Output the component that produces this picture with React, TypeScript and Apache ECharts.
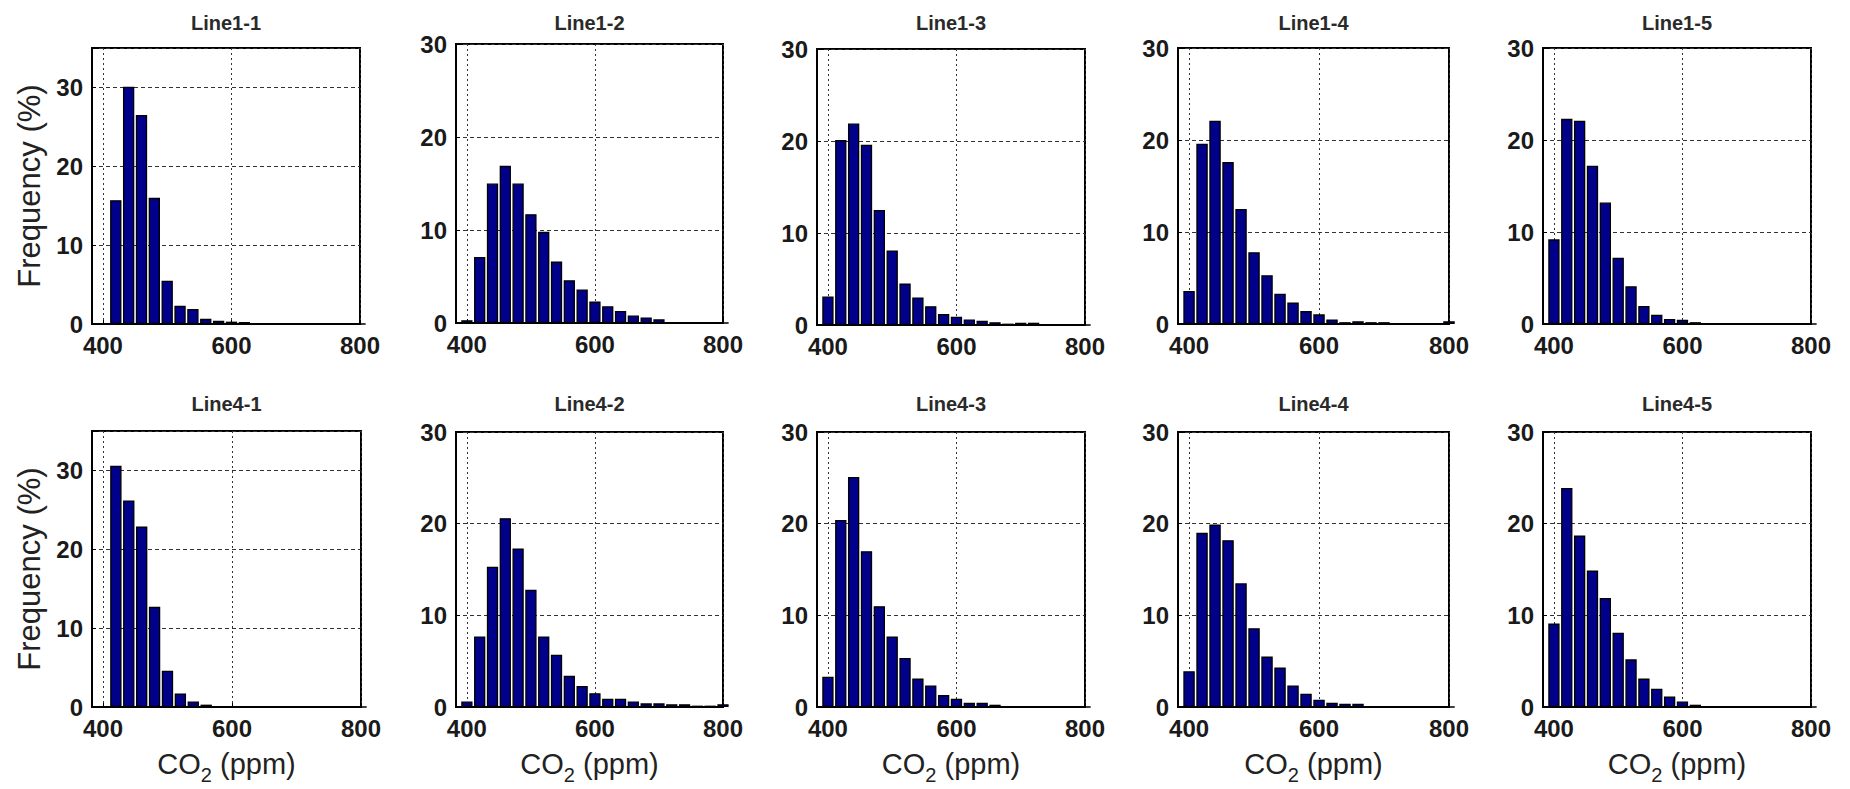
import React, { useEffect, useRef } from 'react';
import * as echarts from 'echarts';

const bins = [400, 420, 440, 460, 480, 500, 520, 540, 560, 580, 600, 620, 640, 660, 680, 700, 720, 740, 760, 780, 800];

const line1_1 = [0, 15.7, 30.1, 26.5, 16.0, 5.5, 2.3, 1.9, 0.65, 0.4, 0.3, 0.25, 0, 0, 0, 0, 0, 0, 0, 0, 0];
const line1_2 = [0.3, 7.1, 15.0, 16.9, 15.0, 11.7, 9.8, 6.6, 4.6, 3.6, 2.3, 1.8, 1.3, 0.8, 0.6, 0.4, 0, 0, 0, 0, 0];
const line1_3 = [3.1, 20.1, 21.9, 19.6, 12.5, 8.1, 4.5, 3.0, 2.05, 1.2, 0.9, 0.6, 0.45, 0.3, 0.15, 0.25, 0.25, 0, 0, 0, 0];
const line1_4 = [3.6, 19.6, 22.1, 17.6, 12.5, 7.8, 5.3, 3.3, 2.35, 1.4, 1.05, 0.5, 0.2, 0.3, 0.2, 0.2, 0, 0, 0, 0, 0.3];
const line1_5 = [9.2, 22.3, 22.1, 17.2, 13.2, 7.2, 4.1, 1.95, 1.0, 0.55, 0.45, 0.2, 0, 0, 0, 0, 0, 0, 0, 0, 0];
const line4_1 = [0, 30.6, 26.2, 22.9, 12.7, 4.6, 1.7, 0.7, 0.3, 0, 0, 0, 0, 0, 0, 0, 0, 0, 0, 0, 0];
const line4_2 = [0.6, 7.7, 15.3, 20.6, 17.3, 12.8, 7.7, 5.7, 3.4, 2.3, 1.5, 0.9, 0.9, 0.6, 0.4, 0.4, 0.3, 0.3, 0.15, 0.15, 0.3];
const line4_3 = [3.3, 20.4, 25.1, 17.0, 11.0, 7.7, 5.35, 3.1, 2.35, 1.3, 0.9, 0.45, 0.45, 0.25, 0, 0, 0, 0, 0, 0, 0];
const line4_4 = [3.9, 19.0, 19.9, 18.2, 13.5, 8.6, 5.5, 4.3, 2.35, 1.45, 0.8, 0.45, 0.35, 0.35, 0, 0, 0, 0, 0, 0, 0];
const line4_5 = [9.1, 23.9, 18.7, 14.9, 11.9, 8.1, 5.2, 3.1, 2.0, 1.15, 0.6, 0.25, 0, 0, 0, 0, 0, 0, 0, 0, 0];

const titles = ['Line1-1', 'Line1-2', 'Line1-3', 'Line1-4', 'Line1-5', 'Line4-1', 'Line4-2', 'Line4-3', 'Line4-4', 'Line4-5'];
const seriesValues = [line1_1, line1_2, line1_3, line1_4, line1_5, line4_1, line4_2, line4_3, line4_4, line4_5];
const yMaxes = [35, 30, 30, 30, 30, 35, 30, 30, 30, 30];
const xTicks = [400, 600, 800];
const xMin = 383;
const xMax = 800;
const yLabel = 'Frequency (%)';

// layout (px)
const grids = [
  { left: 92, top: 48, width: 268, height: 276 },
  { left: 456, top: 44, width: 267, height: 279 },
  { left: 817, top: 49, width: 268, height: 276 },
  { left: 1178, top: 48, width: 271, height: 276 },
  { left: 1543, top: 48, width: 268, height: 276 },
  { left: 92, top: 431, width: 269, height: 276 },
  { left: 456, top: 432, width: 267, height: 275 },
  { left: 817, top: 432, width: 268, height: 275 },
  { left: 1178, top: 432, width: 271, height: 275 },
  { left: 1543, top: 432, width: 268, height: 275 },
];

const FONT = "'Liberation Sans', Arial, Helvetica, sans-serif";

export default function App() {
  const ref = useRef<HTMLDivElement>(null);

  useEffect(() => {
    document.body.style.margin = '0';
    if (!ref.current) return;
    const chart = echarts.init(ref.current, undefined, { renderer: 'svg' });

    const graphic: any[] = [];
    grids.forEach((g, i) => {
      graphic.push({
        type: 'text',
        x: g.left + g.width / 2,
        y: i < 5 ? 23 : 404,
        style: {
          text: titles[i],
          fontFamily: FONT,
          fontSize: 20,
          fontWeight: 'bold',
          fill: '#2a2a2a',
          align: 'center',
          verticalAlign: 'middle',
        },
      });
      if (i >= 5) {
        graphic.push({
          type: 'text',
          x: g.left + g.width / 2,
          y: 764,
          style: {
            text: '{a|CO}{b|2}{a| (ppm)}',
            align: 'center',
            verticalAlign: 'middle',
            rich: {
              a: { fontFamily: FONT, fontSize: 29, fill: '#222' },
              b: { fontFamily: FONT, fontSize: 20, fill: '#222', padding: [22, 0, 0, 0] },
            },
          },
        });
      }
    });
    [0, 5].forEach((i) => {
      const g = grids[i];
      graphic.push({
        type: 'text',
        x: 29,
        y: g.top + g.height / 2,
        rotation: Math.PI / 2,
        style: {
          text: yLabel,
          fontFamily: FONT,
          fontSize: 31,
          fill: '#222',
          align: 'center',
          verticalAlign: 'middle',
        },
      });
    });

    const option: any = {
      animation: false,
      backgroundColor: '#fff',
      grid: grids.map((g) => ({
        ...g,
        show: true,
        borderColor: '#000',
        borderWidth: 2,
        backgroundColor: 'transparent',
        containLabel: false,
      })),
      xAxis: grids.map((_, i) => ({
        type: 'value',
        gridIndex: i,
        min: xMin,
        max: xMax,
        axisLine: { show: true, lineStyle: { color: '#000', width: 2 } },
        axisTick: { show: true, inside: true, length: 4, customValues: xTicks, lineStyle: { color: '#000' } },
        axisLabel: {
          customValues: xTicks,
          margin: 9,
          fontFamily: FONT,
          fontSize: 24,
          fontWeight: 'bold',
          color: '#1a1a1a',
        },
        splitLine: { show: true, lineStyle: { color: '#333', width: 1, type: [2, 3] } },
      })),
      yAxis: grids.map((_, i) => ({
        type: 'value',
        gridIndex: i,
        min: 0,
        max: yMaxes[i],
        interval: 10,
        axisLine: { show: true, lineStyle: { color: '#000', width: 2 } },
        axisTick: { show: true, inside: true, length: 4, lineStyle: { color: '#000' } },
        axisLabel: {
          margin: 9,
          fontFamily: FONT,
          fontSize: 24,
          fontWeight: 'bold',
          color: '#1a1a1a',
          formatter: (v: number) => (v % 10 === 0 ? String(v) : ''),
        },
        splitLine: { show: true, lineStyle: { color: '#333', width: 1, type: [4, 3] } },
      })),
      series: seriesValues.map((vals, i) => ({
        type: 'bar',
        name: titles[i],
        xAxisIndex: i,
        yAxisIndex: i,
        data: bins.map((b, k) => [b, vals[k]]),
        barWidth: '88%',
        itemStyle: { color: '#00008a', borderColor: '#000', borderWidth: 1.3 },
        clip: true,
      })),
      graphic,
    };

    chart.setOption(option);
    return () => chart.dispose();
  }, []);

  return <div ref={ref} style={{ width: 1850, height: 789 }} />;
}
